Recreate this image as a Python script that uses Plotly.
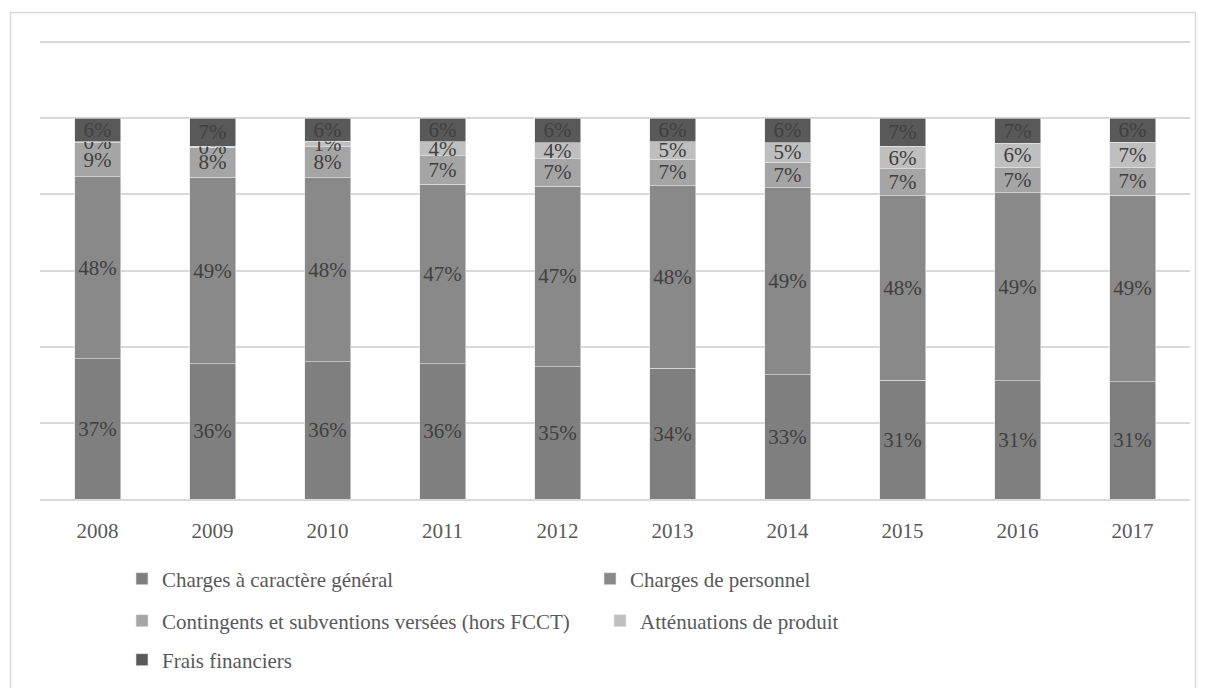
import plotly.graph_objects as go

# Structure des dépenses de fonctionnement (part de chaque poste, en %)
years = ["2008", "2009", "2010", "2011", "2012", "2013", "2014", "2015", "2016", "2017"]

charges_generales = [36.8, 35.5, 36.0, 35.5, 34.8, 34.4, 32.7, 31.2, 31.1, 30.8]
charges_personnel = [47.8, 49.0, 48.4, 47.2, 47.4, 47.9, 49.1, 48.4, 49.3, 49.0]
contingents = [9.0, 7.9, 8.2, 7.4, 7.2, 7.0, 6.7, 7.1, 6.7, 7.3]
attenuations = [0.2, 0.2, 1.4, 3.8, 4.2, 4.6, 5.1, 5.9, 6.3, 6.6]
frais_financiers = [6.2, 7.4, 6.0, 6.1, 6.4, 6.1, 6.4, 7.4, 6.6, 6.3]

series = [
    ("Charges à caractère général", charges_generales, "#7f7f7f", "legend"),
    ("Charges de personnel", charges_personnel, "#898989", "legend"),
    ("Contingents et subventions versées (hors FCCT)", contingents, "#a5a5a5", "legend2"),
    ("Atténuations de produit", attenuations, "#bfbfbf", "legend2"),
    ("Frais financiers", frais_financiers, "#595959", "legend3"),
]

FONT = "Liberation Serif"
TXT = 21

fig = go.Figure()
for name, vals, color, leg in series:
    fig.add_trace(go.Bar(
        x=years, y=vals, name=name,
        marker=dict(color=color, line=dict(color="#e6e6e6", width=0.6)),
        text=vals, texttemplate="%{y:.0f}%",
        textposition="inside", insidetextanchor="middle", textangle=0,
        textfont=dict(family=FONT, size=TXT, color="#404040"),
        legend=leg,
    ))

# plot area: x 40..1190 px, y 41..499 px
PW, PH = 1150, 458

def lx(px):
    return (px - 40) / PW

def ly(py):
    return (499 - py) / PH

legend_common = dict(
    orientation="h", xanchor="left", yanchor="middle",
    font=dict(family=FONT, size=TXT, color="#595959"),
    entrywidthmode="pixels",
    bgcolor="rgba(0,0,0,0)", itemclick=False, itemdoubleclick=False,
    traceorder="normal",
)

fig.update_layout(
    width=1206, height=688,
    margin=dict(l=40, r=16, t=41, b=189, autoexpand=False),
    paper_bgcolor="white", plot_bgcolor="white",
    barmode="stack", bargap=0.6,
    showlegend=True,
    uniformtext=dict(minsize=TXT, mode="show"),
    font=dict(family=FONT, size=TXT, color="#595959"),
    xaxis=dict(
        showgrid=False, showline=True, linecolor="#d9d9d9", linewidth=1.5,
        ticks="", ticklabelstandoff=12, automargin=False,
        tickfont=dict(family=FONT, size=TXT, color="#595959"),
    ),
    yaxis=dict(
        range=[0, 120.3], tickvals=[0, 20, 40, 60, 80, 100, 120],
        showgrid=True, gridcolor="#d9d9d9", gridwidth=1.5, automargin=False,
        showticklabels=False, zeroline=False, showline=False, fixedrange=True,
    ),
    legend=dict(legend_common, x=lx(122), y=ly(579), entrywidth=423),
    legend2=dict(legend_common, x=lx(122), y=ly(621), entrywidth=433),
    legend3=dict(legend_common, x=lx(122), y=ly(660), entrywidth=423),
    shapes=[dict(
        type="rect", xref="paper", yref="paper",
        x0=lx(10.5), x1=lx(1195.5), y0=ly(720), y1=ly(12.5),
        line=dict(color="#d9d9d9", width=1.5), fillcolor="rgba(0,0,0,0)", layer="below",
    )],
)

fig.write_html("out.html")
